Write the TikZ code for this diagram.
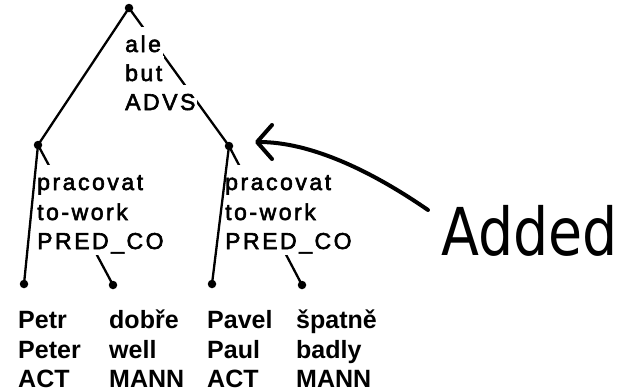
\documentclass[tikz,border=0pt]{standalone}
\usepackage{fontspec}
\usetikzlibrary{arrows.meta}
\newfontfamily\innerfont[LetterSpace=11, FakeBold=2.5]{Liberation Sans}
\newfontfamily\leaffont{Liberation Sans Bold}
\newfontfamily\notefont{DejaVu Sans}

\tikzset{
  edge/.style={line width=2.3pt, line cap=round},
  dot/.style={circle, fill=black, inner sep=0pt, minimum size=8.5pt},
  lab/.style={anchor=base west, inner sep=0pt,
    font=\leaffont\fontsize{25}{30}\selectfont},
  masked/.style={anchor=base west, inner sep=0pt, fill=white, inner xsep=2pt,
    text height=25pt, text depth=6pt,
    font=\innerfont\fontsize{23}{30}\selectfont},
  pointer/.style={line width=4pt, line cap=round,
    -{Straight Barb[length=15pt, width=34pt, round]}},
}

\begin{document}
\begin{tikzpicture}[x=1pt, y=-1pt]
  \fill[white] (0,0) rectangle (620,391);
  \useasboundingbox (0,0) rectangle (620,391);

  % tree nodes
  \coordinate (root)   at (129,8);
  \coordinate (lp)     at (38,145);
  \coordinate (rp)     at (229,146);
  \coordinate (petr)   at (24,284);
  \coordinate (dobre)  at (113,285);
  \coordinate (pavel)  at (212,284);
  \coordinate (spatne) at (302,285);

  % edges to right children run behind the labels
  \draw[edge] (root) -- (rp);
  \draw[edge] (lp) -- (dobre);
  \draw[edge] (rp) -- (spatne);

  % labels of inner nodes (white boxes hide the edges)
  \node[masked] (ale)  at (123,52)  {ale};
  \node[masked] (but)  at (123,81)  {but};
  \node[masked] (advs) at (123,110) {ADVS};

  \node[masked] (lp1) at (35,190) {pracovat};
  \node[masked] (lp2) at (35,220) {to-work};
  \node[masked] (lp3) at (35,249) {PRED\_CO};

  \node[masked] (rp1) at (223,190) {pracovat};
  \node[masked] (rp2) at (223,220) {to-work};
  \node[masked] (rp3) at (223,249) {PRED\_CO};

  % edges to left children
  \draw[edge] (root) -- (lp);
  \draw[edge] (lp) -- (petr);
  \draw[edge] (rp) -- (pavel);

  % node dots
  \foreach \n in {root, lp, rp, petr, dobre, pavel, spatne}
    \node[dot] (d-\n) at (\n) {};

  % leaf labels
  \node[lab] (petr1) at (18,328) {Petr};
  \node[lab] (petr2) at (18,358) {Peter};
  \node[lab] (petr3) at (18,387) {ACT};

  \node[lab] (dobre1) at (109,328) {dobře};
  \node[lab] (dobre2) at (109,358) {well};
  \node[lab] (dobre3) at (109,387) {MANN};

  \node[lab] (pavel1) at (207,328) {Pavel};
  \node[lab] (pavel2) at (207,358) {Paul};
  \node[lab] (pavel3) at (207,387) {ACT};

  \node[lab] (spatne1) at (296,328) {špatně};
  \node[lab] (spatne2) at (296,358) {badly};
  \node[lab] (spatne3) at (296,387) {MANN};

  % annotation
  \node[anchor=base west, inner sep=0pt] (added) at (441,255)
    {\scalebox{0.84}[1]{\notefont\fontsize{66}{70}\selectfont Added}};
  \coordinate (tail) at (428,210);
  \coordinate (tip)  at (255,142);
  \draw[pointer] (tail) .. controls (370,170) and (310,142) .. (tip);
\end{tikzpicture}
\end{document}
